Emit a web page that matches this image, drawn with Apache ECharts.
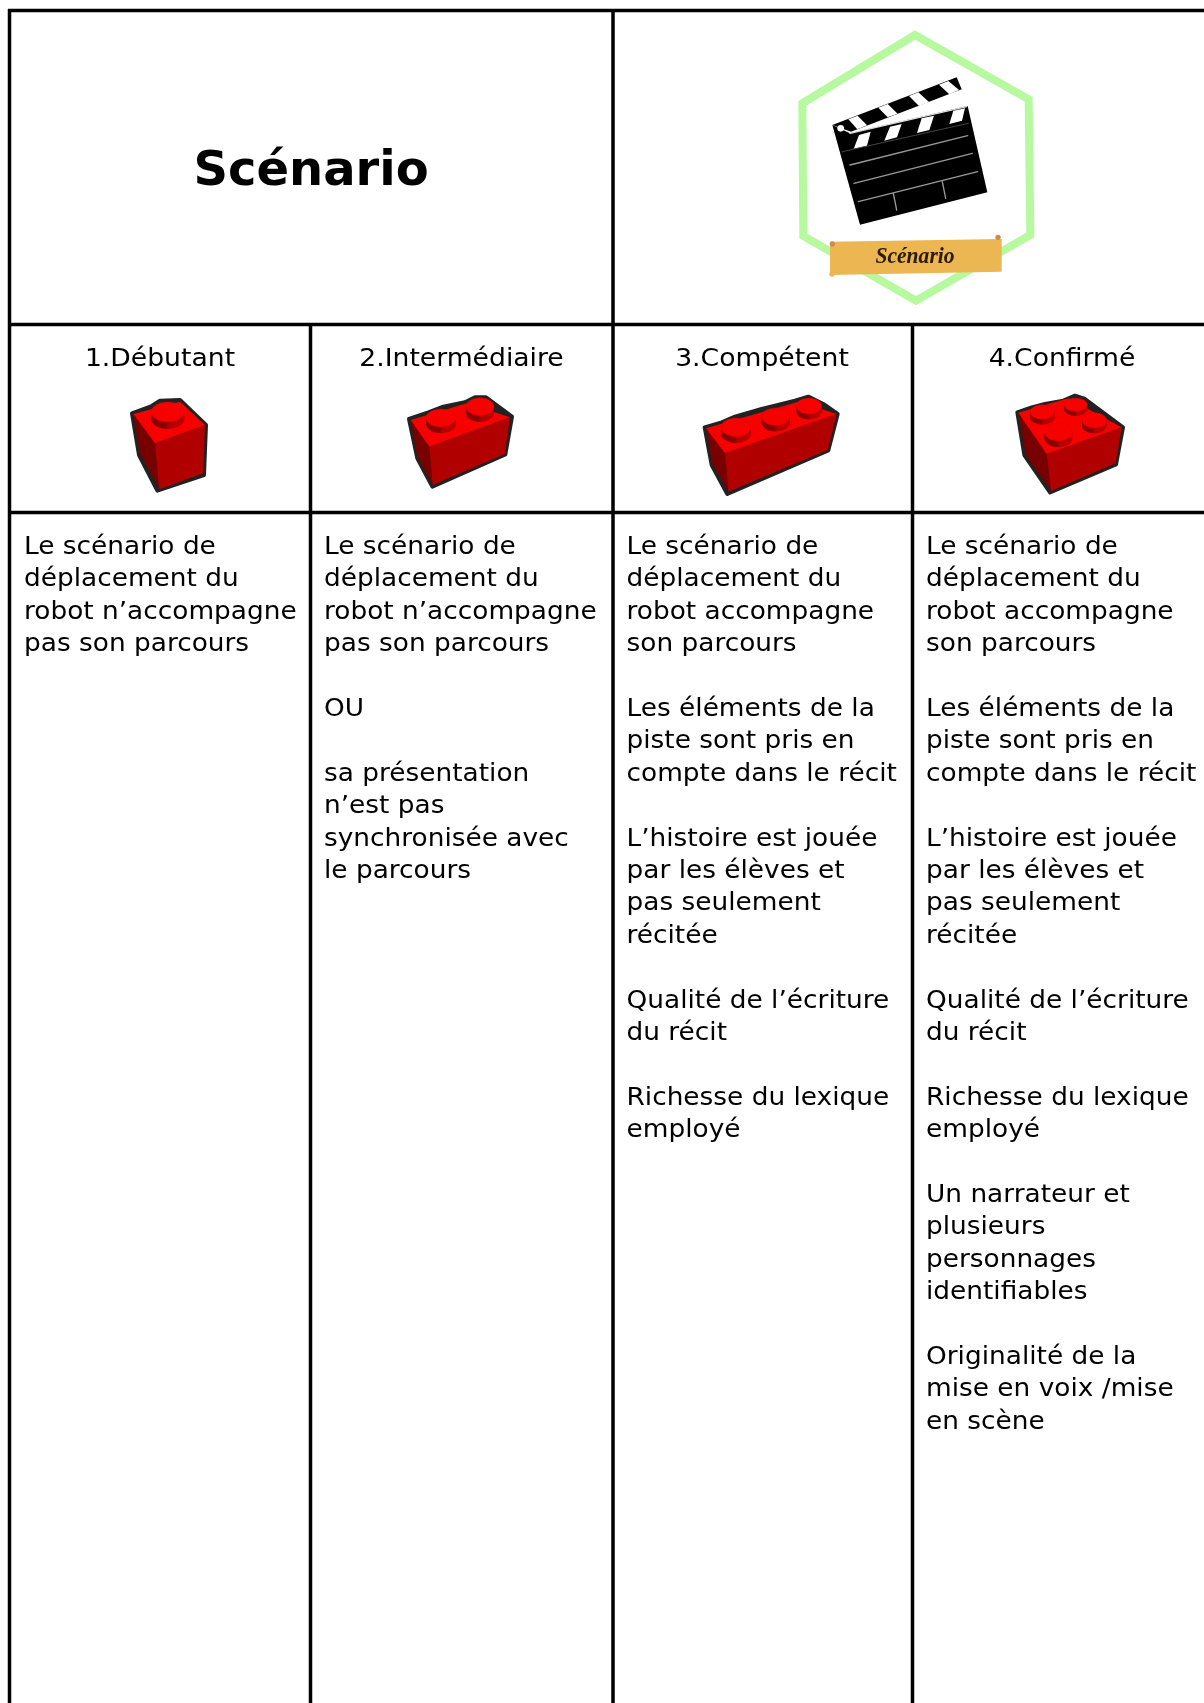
<!DOCTYPE html>
<html>
<head>
<meta charset="utf-8" />
<title>Scénario</title>
<script src="https://cdn.jsdelivr.net/npm/echarts@6/dist/echarts.min.js"></script>
<style>
	html, body { margin: 0; padding: 0; background: #fff; }
	#main { width: 1204px; height: 1703px; }
</style>
</head>
<body>
<div id="main"></div>
<script>
var titleText = 'Scénario';
var levels = ['1.Débutant', '2.Intermédiaire', '3.Compétent', '4.Confirmé'];

// une liste par colonne, '' = ligne vide entre les paragraphes
var col1Lines = ['Le scénario de', 'déplacement du', 'robot n’accompagne', 'pas son parcours'];
var col2Lines = ['Le scénario de', 'déplacement du', 'robot n’accompagne', 'pas son parcours', '', 'OU', '',
	'sa présentation', 'n’est pas', 'synchronisée avec', 'le parcours'];
var col3Lines = ['Le scénario de', 'déplacement du', 'robot accompagne', 'son parcours', '',
	'Les éléments de la', 'piste sont pris en', 'compte dans le récit', '',
	'L’histoire est jouée', 'par les élèves et', 'pas seulement', 'récitée', '',
	'Qualité de l’écriture', 'du récit', '',
	'Richesse du lexique', 'employé'];
var col4Lines = col3Lines.concat(['', 'Un narrateur et', 'plusieurs', 'personnages', 'identifiables', '',
	'Originalité de la', 'mise en voix /mise', 'en scène']);

var bodyFont = '"DejaVu Sans", Verdana, sans-serif';
var elements = [];

function line(x1, y1, x2, y2) {
	elements.push({ type: 'line', shape: { x1: x1, y1: y1, x2: x2, y2: y2 }, style: { stroke: '#000', lineWidth: 3.5 }, z: 5 });
}

// cadre du tableau
line(8, 10.5, 1204, 10.5);
line(8, 324.5, 1204, 324.5);
line(8, 512.5, 1204, 512.5);
line(9.5, 9, 9.5, 1703);
line(310.5, 324, 310.5, 1703);
line(613, 9, 613, 1703);
line(912.5, 324, 912.5, 1703);

elements.push({
	type: 'text', x: 311, y: 173,
	style: { text: titleText, fontFamily: bodyFont, fontWeight: 'bold', fontSize: 48, fill: '#000', align: 'center', verticalAlign: 'middle' }
});

// DejaVu est plus étroite que la police d'origine, d'ou le scaleX
var levelX = [160, 461.5, 762, 1062];
levels.forEach(function (t, i) {
	elements.push({
		type: 'text', x: levelX[i], y: 359, scaleX: 1.065,
		style: { text: t, fontFamily: bodyFont, fontSize: 25, fill: '#000', align: 'center', verticalAlign: 'middle' }
	});
});

[[24, col1Lines], [324, col2Lines], [626.5, col3Lines], [926, col4Lines]].forEach(function (c) {
	c[1].forEach(function (t, i) {
		if (!t) return;
		elements.push({
			type: 'text', x: c[0], y: 547.5 + i * 32.4, scaleX: 1.055,
			style: { text: t, fontFamily: bodyFont, fontSize: 25, fill: '#000', align: 'left', verticalAlign: 'middle' }
		});
	});
});

// logo : coordonnées relevées sur des recadrages x3
function poly(pts, fill, stroke, w, join) {
	return { type: 'polygon', shape: { points: pts }, style: { fill: fill, stroke: stroke || null, lineWidth: w || 0, lineJoin: join || 'round' } };
}
function seg(a, b, c, d, col, w) {
	return { type: 'line', shape: { x1: a, y1: b, x2: c, y2: d }, style: { stroke: col, lineWidth: w, lineCap: 'round' } };
}

elements.push({
	type: 'group', x: 740, y: 0, scaleX: 1 / 3, scaleY: 1 / 3,
	children: [
		poly([[525, 105], [866, 298], [871, 705], [528, 902], [190, 708], [187, 310]], null, '#b7f99e', 24, 'miter'),
		poly([[270, 725], [785, 717], [785, 815], [270, 825]], '#ecb652'),
		{ type: 'circle', shape: { cx: 277, cy: 732, r: 8 }, style: { fill: '#c98f4a' } },
		{ type: 'circle', shape: { cx: 774, cy: 712, r: 8 }, style: { fill: '#c98f4a' } },
		{ type: 'circle', shape: { cx: 276, cy: 822, r: 8 }, style: { fill: '#ecb652' } },
		{
			type: 'text', x: 525, y: 770, scaleX: 0.9,
			style: { text: titleText, fontFamily: '"Liberation Serif", serif', fontStyle: 'italic', fontWeight: 'bold', fontSize: 72, fill: '#2a1c08', align: 'center', verticalAlign: 'middle' }
		}
	]
});

elements.push({
	type: 'group', x: 825, y: 70, scaleX: 1 / 3, scaleY: 1 / 3,
	children: [
		poly([[22, 165], [395, 22], [410, 58], [78, 185]], '#000'),
		poly([[22, 165], [75, 190], [428, 108], [487, 367], [105, 464]], '#000'),
		poly([[70, 148], [98, 137], [126, 166], [97, 178]], '#fff'),
		poly([[160, 113], [188, 102], [218, 131], [188, 142]], '#fff'),
		poly([[252, 78], [280, 67], [312, 96], [282, 108]], '#fff'),
		poly([[342, 44], [370, 33], [402, 60], [373, 73]], '#fff'),
		poly([[102, 195], [137, 185], [126, 227], [86, 237]], '#fff'),
		poly([[195, 170], [230, 162], [216, 202], [178, 212]], '#fff'),
		poly([[290, 145], [327, 137], [313, 180], [276, 189]], '#fff'),
		poly([[385, 122], [420, 115], [411, 152], [373, 162]], '#fff'),
		seg(75, 190, 425, 110, '#ddd', 4),
		{ type: 'circle', shape: { cx: 47, cy: 175, r: 10 }, style: { fill: '#fff' } },
		seg(52, 245, 430, 160, '#444', 3),
		seg(75, 285, 428, 197, '#999', 4),
		seg(87, 340, 442, 250, '#999', 4),
		seg(100, 395, 458, 305, '#999', 4),
		seg(205, 370, 215, 420, '#999', 4),
		seg(352, 335, 362, 385, '#999', 4)
	]
});

function stud(s) {
	var d = s[3] * 0.7;
	var side = new echarts.graphic.LinearGradient(0, 0, 1, 0, [
		{ offset: 0, color: '#8a0000' }, { offset: 0.45, color: '#8a0000' },
		{ offset: 0.55, color: '#b80000' }, { offset: 1, color: '#b80000' }
	]);
	return [
		{ type: 'ellipse', shape: { cx: s[0], cy: s[1] + d, rx: s[2], ry: s[3] }, style: { fill: side } },
		{ type: 'rect', shape: { x: s[0] - s[2], y: s[1], width: s[2] * 2, height: d }, style: { fill: side } },
		{ type: 'ellipse', shape: { cx: s[0], cy: s[1], rx: s[2], ry: s[3] }, style: { fill: '#f60000', stroke: '#d00000', lineWidth: 1 } }
	];
}
function brick(ox, oy, b) {
	var kids = [
		poly(b.outline, '#222', '#222', 12),
		poly(b.left, '#780000'),
		poly(b.front, '#b00000'),
		poly(b.top, '#f80000')
	];
	b.studs.forEach(function (s) { kids = kids.concat(stud(s)); });
	elements.push({ type: 'group', x: ox, y: oy, scaleX: 1 / 3, scaleY: 1 / 3, children: kids });
}

brick(120, 390, {
	outline: [[36, 70], [95, 48], [120, 32], [180, 30], [258, 105], [252, 255], [112, 302], [57, 195]],
	top: [[40, 72], [180, 35], [255, 105], [105, 160]],
	front: [[105, 160], [255, 105], [250, 250], [118, 298]],
	left: [[40, 72], [105, 160], [118, 298], [60, 190]],
	studs: [[143, 66, 50, 30]]
});
brick(400, 390, {
	outline: [[27, 87], [85, 67], [130, 50], [195, 37], [225, 22], [258, 22], [336, 80], [316, 193], [97, 290], [52, 205]],
	top: [[32, 90], [200, 40], [330, 82], [88, 170]],
	front: [[88, 170], [330, 82], [315, 192], [98, 285]],
	left: [[32, 90], [88, 170], [98, 285], [52, 200]],
	studs: [[123, 84, 45, 27], [240, 50, 42, 27]]
});
brick(695, 390, {
	outline: [[29, 112], [80, 97], [120, 80], [200, 57], [240, 47], [300, 32], [340, 20], [385, 42], [428, 72], [400, 181], [97, 312], [50, 225]],
	top: [[33, 115], [310, 35], [425, 72], [90, 190]],
	front: [[90, 190], [425, 72], [398, 180], [100, 305]],
	left: [[33, 115], [90, 190], [100, 305], [52, 220]],
	studs: [[123, 112, 45, 28], [242, 80, 42, 26], [342, 48, 38, 24]]
});
brick(1005, 390, {
	outline: [[37, 67], [80, 52], [120, 42], [175, 32], [210, 17], [240, 27], [354, 112], [333, 223], [135, 307], [58, 195]],
	top: [[40, 68], [190, 25], [350, 112], [125, 192]],
	front: [[125, 192], [350, 112], [332, 220], [138, 303]],
	left: [[40, 68], [125, 192], [138, 303], [62, 195]],
	studs: [[112, 66, 37, 22], [212, 44, 35, 20], [268, 91, 37, 23], [160, 126, 42, 27]]
});

var myChart = echarts.init(document.getElementById('main'));
myChart.setOption({
	backgroundColor: '#fff',
	animation: false,
	graphic: { elements: elements }
});
</script>
</body>
</html>
